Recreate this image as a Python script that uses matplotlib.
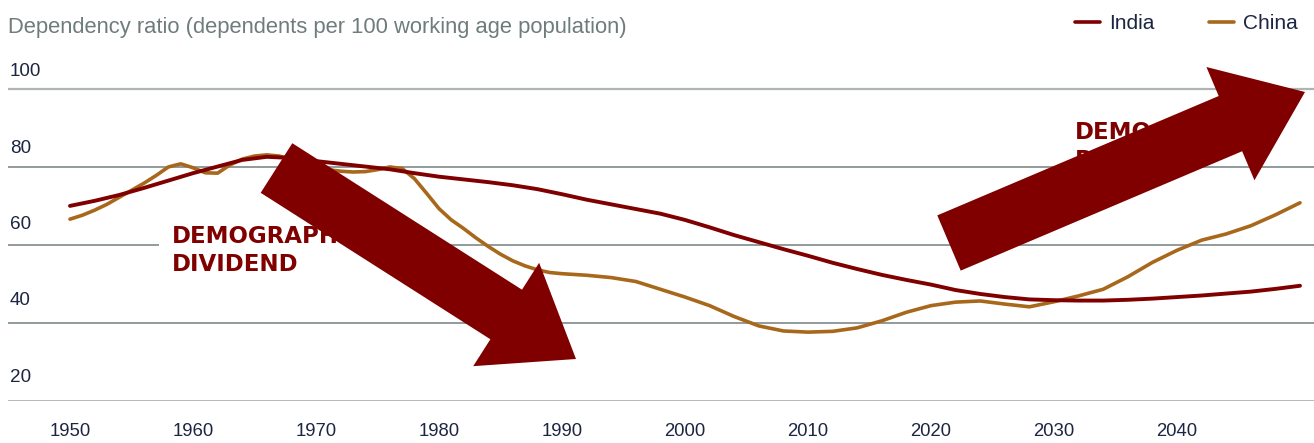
import numpy as np
import matplotlib.pyplot as plt
from matplotlib.patches import FancyArrow

plt.rcParams['font.family'] = ['Liberation Sans', 'DejaVu Sans']

# dependency ratio
india_years = list(range(1950, 2051, 2))
india_ratio = [70.0, 71.3, 72.8, 74.6, 76.5, 78.4, 80.1, 81.8, 82.6, 82.3,
               81.5, 80.8, 80.1, 79.4, 78.4, 77.5, 76.8, 76.1, 75.3, 74.3,
               73.0, 71.6, 70.4, 69.2, 68.0, 66.4, 64.5, 62.5, 60.7, 58.9,
               57.2, 55.4, 53.8, 52.3, 51.0, 49.8, 48.4, 47.4, 46.6, 46.0,
               45.8, 45.7, 45.7, 45.9, 46.2, 46.6, 47.0, 47.5, 48.0, 48.7, 49.5]

china_years = list(range(1950, 1991)) + list(range(1992, 2051, 2))
china_ratio = [66.6, 67.6, 68.9, 70.4, 72.2, 74.0, 75.8, 77.8, 80.0, 80.8,
               79.8, 78.5, 78.4, 80.5, 82.0, 82.8, 83.1, 82.8, 82.0, 81.0,
               80.0, 79.3, 78.9, 78.7, 78.8, 79.3, 80.0, 79.6, 77.0, 73.2,
               69.3, 66.4, 64.2, 61.8, 59.6, 57.6, 55.9, 54.6, 53.6, 52.9,
               52.6,
               52.2, 51.6, 50.6, 48.6, 46.6, 44.4, 41.6, 39.2, 37.9, 37.6,
               37.8, 38.7, 40.5, 42.7, 44.4, 45.3, 45.6, 44.8, 44.1, 45.4,
               46.9, 48.6, 51.8, 55.5, 58.6, 61.2, 62.8, 64.9, 67.7, 70.8]

grid_values = [20, 40, 60, 80, 100]
decades = list(range(1950, 2041, 10))

title = 'Dependency ratio (dependents per 100 working age population)'

W, H = 1314, 443
navy = '#1c2541'
red = '#800000'
gold = '#a8681c'

fig = plt.figure(figsize=(W / 100, H / 100), dpi=100)

# pixel layout of the plot area
px_year = 12.3
x1950 = 70
px_unit = 3.896
y20 = 400.7
ytop = 40

ax = fig.add_axes([8 / W, (H - y20) / H, (W - 8) / W, (y20 - ytop) / H])
ax.set_xlim(1950 - (x1950 - 8) / px_year, 1950 + (W - x1950) / px_year)
ax.set_ylim(20, 20 + (y20 - ytop) / px_unit)
for s in ax.spines.values():
    s.set_visible(False)

grid_cols = ['#aeb3b3', '#7e8a8a', '#7e8a8a', '#7e8a8a', '#aeb3b3']
grid_lw = [2.0, 1.2, 1.2, 1.2, 1.6]
for v, c, lw in zip(grid_values, grid_cols, grid_lw):
    ax.axhline(v, color=c, lw=lw, zorder=1)
    # value labels sit above their gridlines
    ax.text(0.0015, v + 4.4 + (100 - v) * 0.02, str(v),
            transform=ax.get_yaxis_transform(),
            ha='left', va='center', fontsize=13.6, color=navy)

ax.set_yticks([])
ax.set_xticks(decades)
ax.set_xticklabels([str(d) for d in decades])
ax.tick_params(axis='x', length=0, pad=16, labelsize=13.3, labelcolor=navy)

ax.plot(india_years, india_ratio, color=red, lw=2.8, solid_capstyle='round',
        zorder=3, label='India')
ax.plot(china_years, china_ratio, color=gold, lw=2.6, solid_capstyle='round',
        zorder=2, label='China')

# annotations (partly hidden by the arrows, as in the original)
box = dict(boxstyle='square,pad=0.55', fc='white', ec='none')
ax.text(1958.3, 65.2, 'DEMOGRAPHIC\nDIVIDEND', fontsize=16.5,
        fontweight='bold', family='DejaVu Sans', color=red, va='top',
        linespacing=1.3, bbox=box, zorder=4)
ax.text(2031.7, 91.9, 'DEMOGRAPHIC\nBURDEN', fontsize=16.5,
        fontweight='bold', family='DejaVu Sans', color=red, va='top',
        linespacing=1.3, zorder=4)

# block arrows, drawn in inches so the shape is not distorted
down = FancyArrow(2.765, 2.75, 2.995, -1.91, width=0.588, head_width=1.226,
                  head_length=0.828, length_includes_head=True,
                  transform=fig.dpi_scale_trans, color=red, lw=0, zorder=5)
up = FancyArrow(9.49, 2.00, 3.56, 1.51, width=0.60, head_width=1.23,
                head_length=0.81, length_includes_head=True,
                transform=fig.dpi_scale_trans, color=red, lw=0, zorder=5)
fig.add_artist(down)
fig.add_artist(up)

fig.text(8 / W, (H - 33) / H, title, ha='left', va='baseline',
         fontsize=15.8, color='#6f7c7c')

leg = ax.legend(loc='upper right', bbox_to_anchor=(1298 / W, (H - 14) / H),
                bbox_transform=fig.transFigure, ncol=2, frameon=False,
                fontsize=15, handlelength=1.2, handletextpad=0.45,
                columnspacing=2.6, borderpad=0, borderaxespad=0)
for t in leg.get_texts():
    t.set_color(navy)
for h in leg.get_lines():
    h.set_linewidth(2.6)

fig.savefig('out.png', dpi=100)
